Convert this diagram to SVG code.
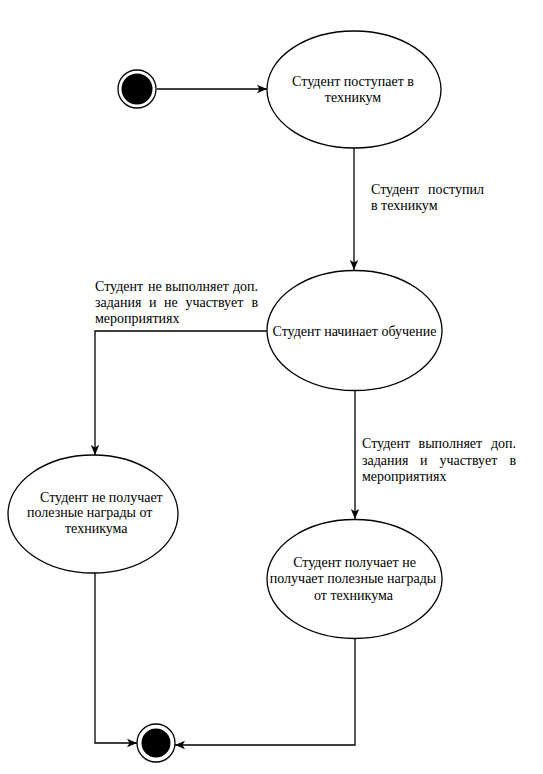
<svg xmlns="http://www.w3.org/2000/svg" width="543" height="774" viewBox="0 0 543 774">
<defs>
<style>
.n{fill:#fff;stroke:#000;stroke-width:1.3}
.t{font-family:"Liberation Serif","Times New Roman","DejaVu Serif",serif;font-size:14px;fill:#000}
.m{text-anchor:middle}
.e{text-anchor:end}
.c{fill:none;stroke:#000;stroke-width:1.3}
</style>
<marker id="a" markerUnits="userSpaceOnUse" markerWidth="12" markerHeight="10" refX="11" refY="5" orient="auto">
<path d="M1,0.8 L11,5 L1,9.2 L3.5,5 Z" fill="#000"/>
</marker>
</defs>
<rect width="543" height="774" fill="#fff"/>
<g id="connectors">
<path class="c" d="M157,89 H267" marker-end="url(#a)"/>
<path class="c" d="M354,148 V270" marker-end="url(#a)"/>
<path class="c" d="M267,331 H95 V455" marker-end="url(#a)"/>
<path class="c" d="M355,390 V519" marker-end="url(#a)"/>
<path class="c" d="M95,573 V743 H137" marker-end="url(#a)"/>
<path class="c" d="M355,638 V745 H175" marker-end="url(#a)"/>
<g id="label1" class="t">
<text x="371" y="193.5">Студент</text>
<text x="428" y="193.5">поступил</text>
<text x="371" y="210">в техникум</text>
</g>
<g id="label2" class="t">
<text x="95" y="291">Студент</text>
<text x="148" y="291">не</text>
<text x="165.3" y="291">выполняет</text>
<text x="258" y="291" class="e">доп.</text>
<text x="95" y="307">задания</text>
<text x="149" y="307">и</text>
<text x="164" y="307">не</text>
<text x="185.4" y="307">участвует</text>
<text x="258" y="307" class="e">в</text>
<text x="95" y="323">мероприятиях</text>
</g>
<g id="label3" class="t">
<text x="362" y="448">Студент</text>
<text x="418.6" y="448">выполняет</text>
<text x="516" y="448" class="e">доп.</text>
<text x="362" y="464.5">задания</text>
<text x="420" y="464.5">и</text>
<text x="439.4" y="464.5">участвует</text>
<text x="516" y="464.5" class="e">в</text>
<text x="362" y="481">мероприятиях</text>
</g>
</g>
<g id="start">
<circle class="n" cx="137" cy="89" r="19"/>
<circle cx="137" cy="89" r="15.5" fill="#000"/>
</g>
<g id="s1">
<ellipse class="n" cx="354" cy="89.5" rx="87" ry="58.5"/>
<text class="t m" x="353" y="86">Студент поступает в</text>
<text class="t m" x="353" y="102">техникум</text>
</g>
<g id="s2">
<ellipse class="n" cx="354.5" cy="330.5" rx="87.5" ry="60"/>
<text class="t m" x="354.5" y="336">Студент начинает обучение</text>
</g>
<g id="s3">
<ellipse class="n" cx="93" cy="514" rx="85" ry="59"/>
<text class="t" x="40" y="502">Студент не получает</text>
<text class="t" x="27" y="517">полезные награды от</text>
<text class="t" x="65" y="533">техникума</text>
</g>
<g id="s4">
<ellipse class="n" cx="354.5" cy="579" rx="87.5" ry="59.5"/>
<text class="t m" x="354.5" y="567">Студент получает не</text>
<text class="t m" x="353" y="583">получает полезные награды</text>
<text class="t m" x="353.5" y="600">от техникума</text>
</g>
<g id="end">
<circle class="n" cx="156" cy="743" r="19"/>
<circle cx="156" cy="743" r="14.5" fill="#000"/>
</g>
</svg>
